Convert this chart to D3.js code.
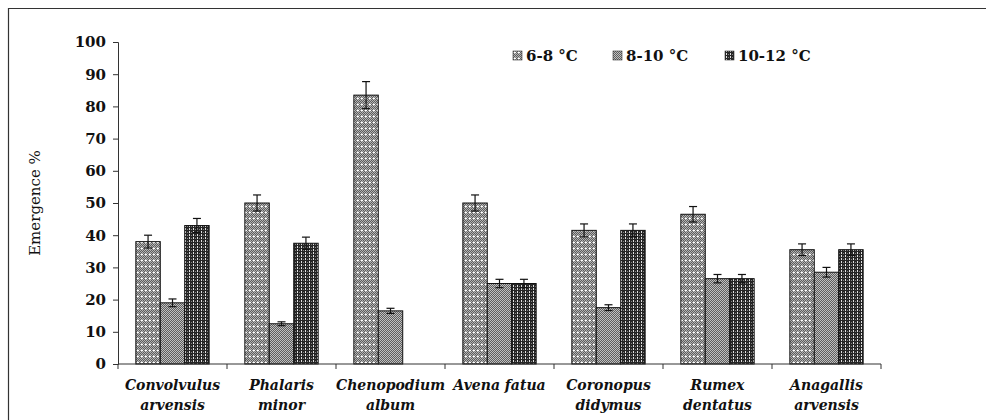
<!DOCTYPE html>
<html>
<head>
<meta charset="utf-8">
<script src="https://cdn.jsdelivr.net/npm/d3@7"></script>
<style>
  body { margin: 0; background: #fff; }
  svg { display: block; font-family: "DejaVu Serif", "Liberation Serif", serif; }
</style>
</head>
<body>
<svg id="chart" width="986" height="420"></svg>
<script>
const species = [
  ['Convolvulus', 'arvensis'],
  ['Phalaris', 'minor'],
  ['Chenopodium', 'album'],
  ['Avena fatua', ''],
  ['Coronopus', 'didymus'],
  ['Rumex', 'dentatus'],
  ['Anagallis', 'arvensis']
];
const series = ['6-8 °C', '8-10 °C', '10-12 °C'];
const temp68 = [38, 50, 83.5, 50, 41.5, 46.5, 35.5];
const temp810 = [19, 12.5, 16.5, 25, 17.5, 26.5, 28.5];
const temp1012 = [43, 37.5, null, 25, 41.5, 26.5, 35.5];
const err68 = [2, 2.5, 4.2, 2.5, 2, 2.4, 1.8];
const err810 = [1.2, 0.6, 0.8, 1.3, 0.9, 1.3, 1.5];
const err1012 = [2.2, 1.9, null, 1.3, 2, 1.3, 1.8];
const yTicks = [0, 10, 20, 30, 40, 50, 60, 70, 80, 90, 100];

const values = [temp68, temp810, temp1012];
const errors = [err68, err810, err1012];

const svg = d3.select('#chart');
const plotLeft = 118, plotRight = 881, plotTop = 42, plotBottom = 364;

// frame
svg.append('path')
  .attr('d', 'M8.5,421 V8.5 H986')
  .attr('fill', 'none').attr('stroke', '#333').attr('stroke-width', 1.2);

// patterns
const defs = svg.append('defs');
const p1 = defs.append('pattern').attr('id', 'pat0').attr('patternUnits', 'userSpaceOnUse')
  .attr('width', 4).attr('height', 6);
p1.append('rect').attr('width', 4).attr('height', 6).attr('fill', '#5c5c5c');
d3.range(4).forEach(px => d3.range(6).forEach(py => {
  if ((px + py) % 2 === 0) p1.append('rect').attr('x', px).attr('y', py).attr('width', 1).attr('height', 1).attr('fill', '#b4b4b4');
}));
p1.append('rect').attr('x', 1).attr('y', 2).attr('width', 2).attr('height', 1).attr('fill', '#fff');
p1.append('rect').attr('x', 1.5).attr('y', 1.5).attr('width', 1).attr('height', 2).attr('fill', '#fff');

const p2 = defs.append('pattern').attr('id', 'pat1').attr('patternUnits', 'userSpaceOnUse')
  .attr('width', 2).attr('height', 2);
p2.append('rect').attr('width', 2).attr('height', 2).attr('fill', '#5e5e5e');
p2.append('rect').attr('width', 1).attr('height', 1).attr('fill', '#c0c0c0');
p2.append('rect').attr('x', 1).attr('y', 1).attr('width', 1).attr('height', 1).attr('fill', '#c0c0c0');

const p3 = defs.append('pattern').attr('id', 'pat2').attr('patternUnits', 'userSpaceOnUse')
  .attr('width', 4).attr('height', 3);
p3.append('rect').attr('width', 4).attr('height', 3).attr('fill', '#262626');
p3.append('rect').attr('x', 1).attr('y', 0).attr('width', 1).attr('height', 2).attr('fill', '#e0e0e0');
p3.append('rect').attr('x', 3).attr('y', 1).attr('width', 1).attr('height', 1).attr('fill', '#808080');

const x = d3.scaleBand().domain(d3.range(species.length)).range([plotLeft, plotRight]).padding(0);
const xs = d3.scaleBand().domain(d3.range(series.length)).range([0, x.bandwidth()])
  .paddingInner(0).paddingOuter(0.73);
const y = d3.scaleLinear().domain([0, 100]).range([plotBottom, plotTop]);

// y axis
const yAxis = svg.append('g').attr('transform', `translate(${plotLeft},0)`)
  .call(d3.axisLeft(y).tickValues(yTicks).tickSize(5).tickPadding(7));
yAxis.select('.domain').attr('stroke', '#333');
yAxis.selectAll('.tick line').attr('stroke', '#333');
yAxis.selectAll('text').attr('font-size', 15).attr('font-weight', 'bold')
  .attr('fill', '#111').attr('font-family', '"DejaVu Serif", serif');

// bars
species.forEach((sp, i) => {
  series.forEach((s, j) => {
    const v = values[j][i];
    if (v == null) return;
    const bx = x(i) + xs(j);
    svg.append('rect')
      .attr('x', bx).attr('y', y(v))
      .attr('width', xs.bandwidth()).attr('height', y(0) - y(v))
      .attr('fill', `url(#pat${j})`)
      .attr('stroke', '#111').attr('stroke-width', 1);
    const e = errors[j][i];
    const cx = bx + xs.bandwidth() / 2;
    const g = svg.append('g').attr('stroke', '#111').attr('stroke-width', 1.2);
    g.append('line').attr('x1', cx).attr('x2', cx).attr('y1', y(v + e)).attr('y2', y(v - e));
    g.append('line').attr('x1', cx - 4).attr('x2', cx + 4).attr('y1', y(v + e)).attr('y2', y(v + e));
    g.append('line').attr('x1', cx - 4).attr('x2', cx + 4).attr('y1', y(v - e)).attr('y2', y(v - e));
  });
});

// x axis
const xAxis = svg.append('g').attr('transform', `translate(0,${plotBottom})`);
xAxis.append('line').attr('x1', plotLeft).attr('x2', plotRight).attr('stroke', '#333').attr('stroke-width', 1.2);
d3.range(species.length + 1).forEach(i => {
  const tx = i < species.length ? x(i) : plotRight;
  xAxis.append('line').attr('x1', tx).attr('x2', tx).attr('y1', 0).attr('y2', 5).attr('stroke', '#333');
});
species.forEach((sp, i) => {
  const cx = x(i) + x.bandwidth() / 2;
  const t = svg.append('text')
    .attr('x', cx).attr('y', 390)
    .attr('text-anchor', 'middle').attr('font-size', 14)
    .attr('font-weight', 'bold').attr('font-style', 'italic').attr('fill', '#111');
  t.append('tspan').attr('x', cx).text(sp[0]);
  if (sp[1]) t.append('tspan').attr('x', cx).attr('dy', 20).text(sp[1]);
});

// y label
svg.append('text')
  .attr('transform', 'translate(40,203) rotate(-90)')
  .attr('text-anchor', 'middle').attr('font-size', 15).attr('fill', '#111')
  .text('Emergence %');

// legend
const legendX = [513, 613, 725];
series.forEach((s, j) => {
  const g = svg.append('g').attr('transform', `translate(${legendX[j]},56)`);
  g.append('rect').attr('x', 0).attr('y', -5).attr('width', 9).attr('height', 9)
    .attr('fill', `url(#pat${j})`).attr('stroke', '#333').attr('stroke-width', 0.6);
  g.append('text').attr('x', 13).attr('y', 5).attr('font-size', 15)
    .attr('font-weight', 'bold').attr('fill', '#111').text(s);
});
</script>
</body>
</html>
